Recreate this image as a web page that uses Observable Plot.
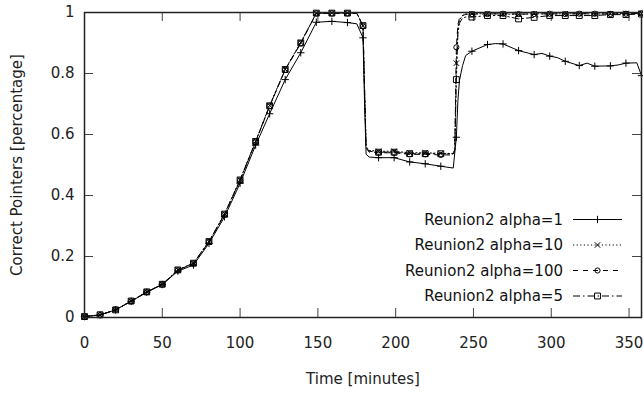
<!DOCTYPE html>
<html><head><meta charset="utf-8">
<script src="https://cdn.jsdelivr.net/npm/d3@7"></script>
<script src="https://cdn.jsdelivr.net/npm/@observablehq/plot@0.6"></script>
<style>body{margin:0;background:#fff} svg{display:block}</style>
</head><body><div id="chart"></div>
<script>
const seriesNames = ["Reunion2 alpha=1", "Reunion2 alpha=10", "Reunion2 alpha=100", "Reunion2 alpha=5"];
const xTicks = [0, 50, 100, 150, 200, 250, 300, 350];
const yTicks = [0, 0.2, 0.4, 0.6, 0.8, 1];
const markerTimes = [0,10,20,30,40,50,60,70,80,90,100,110,119,129,139,149,159,169,179,189,199,209,219,229,239,249,259,269,279,289,299,309,318,328,338,348,358];

const timesA1 = [0,10,20,30,40,50,60,70,80,90,100,110,119,129,139,149,159,169,175,179,180,181,183,189,199,209,219,229,237,239,240,241,243,245,249,259,264,269,279,289,294,299,304,309,318,323,328,338,343,348,355,358];
const valuesA1 = [0.003,0.008,0.025,0.053,0.083,0.108,0.152,0.172,0.243,0.330,0.440,0.565,0.668,0.780,0.868,0.968,0.971,0.967,0.963,0.917,0.700,0.535,0.526,0.524,0.524,0.510,0.504,0.496,0.490,0.591,0.711,0.777,0.826,0.859,0.873,0.895,0.898,0.897,0.875,0.862,0.866,0.857,0.852,0.840,0.826,0.834,0.824,0.825,0.828,0.834,0.835,0.793];

const timesUp = [0,10,20,30,40,50,60,70,80,90,100,110,119,129,139,149,159,169,175,179,180,181,183,189,199,209,219,229,237,238,239,240,241,243,245,249,259,269,279,289,299,309,318,328,338,348,358];
const valuesA10 = [0.003,0.008,0.025,0.054,0.084,0.109,0.156,0.178,0.249,0.340,0.452,0.578,0.695,0.814,0.902,0.998,0.998,0.998,0.998,0.957,0.750,0.560,0.548,0.545,0.545,0.540,0.540,0.538,0.538,0.550,0.834,0.950,0.975,0.990,0.995,0.996,0.996,0.995,0.994,0.996,0.995,0.996,0.996,0.995,0.996,0.997,0.997];
const valuesA100 = [0.003,0.008,0.026,0.053,0.083,0.108,0.155,0.177,0.248,0.337,0.449,0.576,0.693,0.812,0.899,0.997,0.997,0.997,0.997,0.955,0.750,0.555,0.542,0.540,0.540,0.535,0.535,0.533,0.533,0.550,0.886,0.960,0.982,0.990,0.994,0.995,0.995,0.996,0.995,0.995,0.996,0.995,0.996,0.996,0.995,0.996,0.997];
const valuesA5 = [0.003,0.009,0.025,0.054,0.084,0.109,0.156,0.178,0.249,0.339,0.451,0.577,0.694,0.813,0.900,0.998,0.998,0.998,0.998,0.957,0.750,0.558,0.545,0.542,0.542,0.537,0.537,0.537,0.536,0.550,0.780,0.930,0.965,0.982,0.985,0.985,0.990,0.990,0.979,0.984,0.990,0.990,0.990,0.990,0.993,0.993,0.995];

const styles = [
  {dash: null, symbol: "plus", r: 2.5},
  {dash: "1.2,2.4", symbol: "times", r: 2.6},
  {dash: "5,5", symbol: "circle", r: 2.6},
  {dash: "7,3,1.5,3", symbol: "square", r: 3.3}
];

const series = [
  {name: seriesNames[0], t: timesA1, v: valuesA1},
  {name: seriesNames[1], t: timesUp, v: valuesA10},
  {name: seriesNames[2], t: timesUp, v: valuesA100},
  {name: seriesNames[3], t: timesUp, v: valuesA5}
];

const W = 643, H = 396, mL = 84, mR = 2, mT = 12, mB = 79;
const plotW = W - mL - mR, plotH = H - mT - mB;
const font = "DejaVu Sans";
const fs = 15;

const marks = [];
series.forEach((s, i) => {
  const pts = s.t.map((t, j) => ({t, v: s.v[j]}));
  const st = styles[i];
  marks.push(Plot.line(pts, {x: "t", y: "v", stroke: "black", strokeWidth: 1, strokeDasharray: st.dash}));
  marks.push(Plot.dot(pts.filter(p => markerTimes.includes(p.t)), {x: "t", y: "v", symbol: st.symbol, r: st.r, stroke: "black", strokeWidth: 1, fill: "none"}));
});

const chart = Plot.plot({
  width: W, height: H,
  marginLeft: mL, marginRight: mR, marginTop: mT, marginBottom: mB,
  style: {fontFamily: font, fontSize: fs + "px", background: "white", color: "#222"},
  x: {domain: [0, 358]},
  y: {domain: [0, 1]},
  marks: [
    Plot.ruleX(xTicks, {x: d => d, insetTop: plotH - 9, stroke: "#444"}),
    Plot.ruleX(xTicks, {x: d => d, insetBottom: plotH - 9, stroke: "#444"}),
    Plot.ruleY(yTicks, {y: d => d, insetRight: plotW - 9, stroke: "#444"}),
    Plot.ruleY(yTicks, {y: d => d, insetLeft: plotW - 9, stroke: "#444"}),
    Plot.axisX(xTicks, {tickSize: 0, tickPadding: 20, label: null, fontSize: fs}),
    Plot.axisY(yTicks, {tickSize: 0, tickPadding: 10, label: null, fontSize: fs, tickFormat: d3.format("~g")}),
    Plot.text(["Time [minutes]"], {frameAnchor: "bottom", dy: 66, text: d => d, fontSize: fs}),
    Plot.text(["Correct Pointers [percentage]"], {frameAnchor: "left", textAnchor: "middle", dx: -67, rotate: -90, text: d => d, fontSize: fs}),
    ...marks,
    Plot.frame({stroke: "#222", strokeWidth: 1.5})
  ]
});

// legend inside the plot (bottom right)
const svg = d3.select(chart);
const lg = svg.append("g").attr("font-family", font).attr("font-size", fs);
const rowY = [219.5, 245, 270.5, 296];
seriesNames.forEach((name, i) => {
  const y = rowY[i];
  const st = styles[i];
  lg.append("text").attr("x", 563).attr("y", y).attr("dy", "0.35em").attr("text-anchor", "end").attr("fill", "#111").text(name);
  lg.append("line").attr("x1", 573).attr("x2", 622).attr("y1", y).attr("y2", y)
    .attr("stroke", "black").attr("stroke-width", 1).attr("stroke-dasharray", st.dash);
  const sz = Math.PI * st.r * st.r;
  const sym = {plus: d3.symbolPlus, times: d3.symbolTimes, circle: d3.symbolCircle, square: d3.symbolSquare}[st.symbol];
  lg.append("path").attr("transform", `translate(597.5,${y})`).attr("d", d3.symbol(sym, sz)())
    .attr("fill", "none").attr("stroke", "black").attr("stroke-width", 1);
});

document.getElementById("chart").appendChild(chart);
</script>
</body></html>
